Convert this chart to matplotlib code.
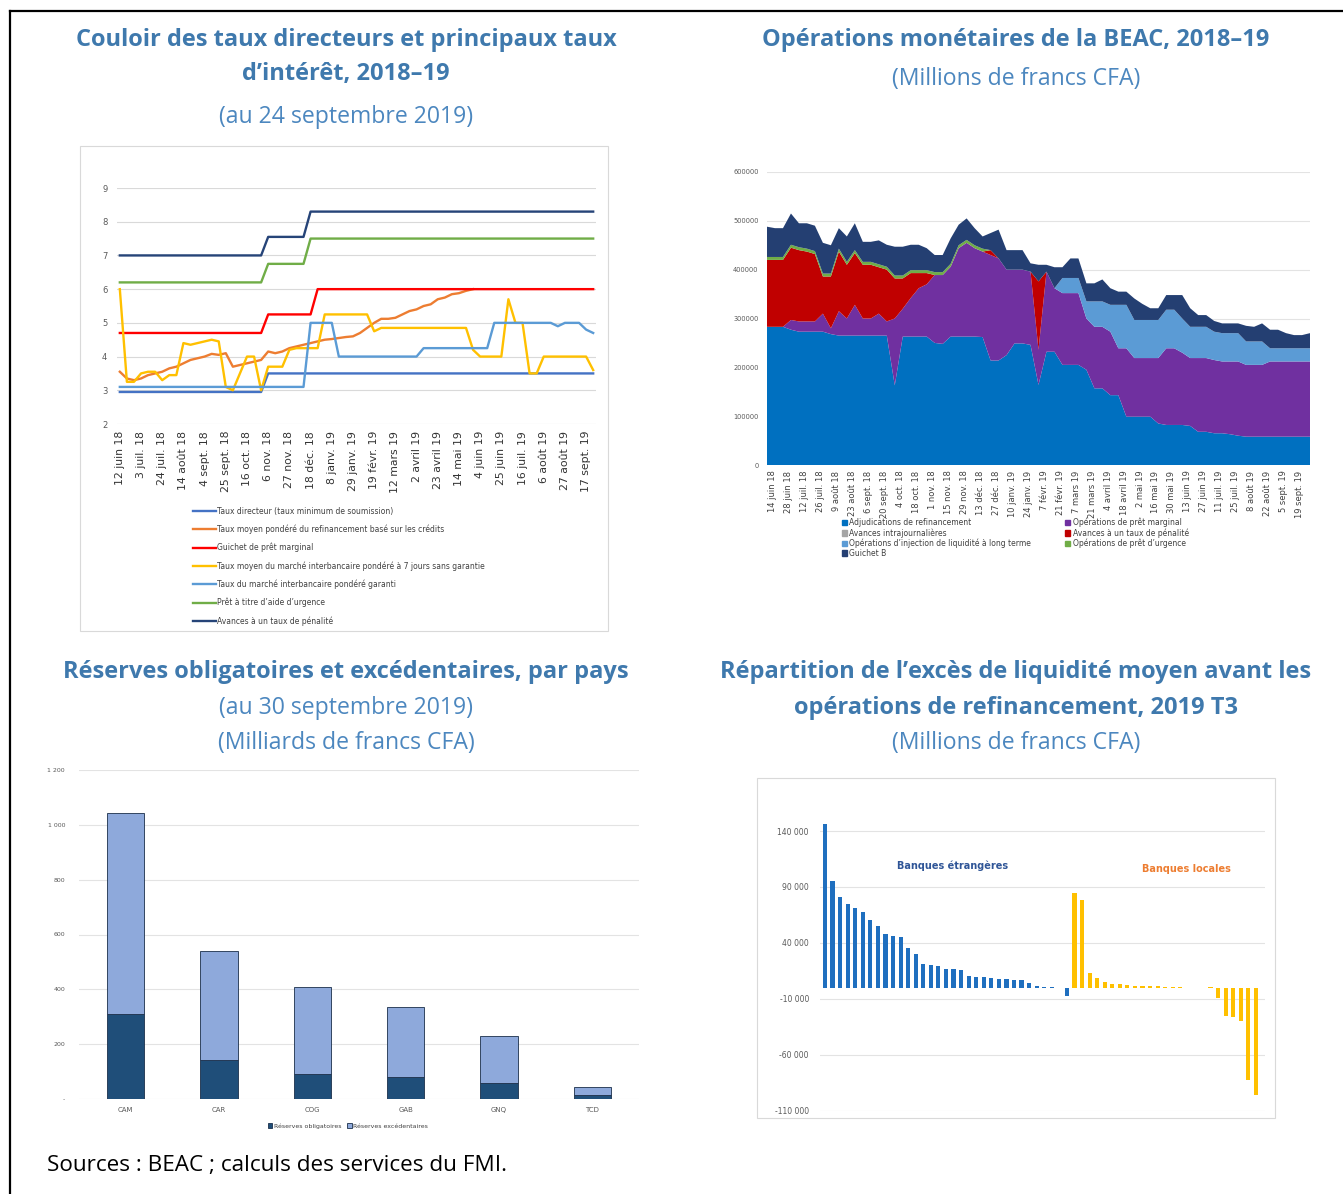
import numpy as np
import matplotlib.pyplot as plt
from matplotlib.patches import Rectangle, Patch
from matplotlib.lines import Line2D

W, H = 1343, 1194

# --- Panel 1: couloir des taux (hebdomadaire, 12 juin 18 -> 24 sept. 19) ---
p1_ticklabels = ["12 juin 18", "3 juil. 18", "24 juil. 18", "14 août 18", "4 sept. 18",
                 "25 sept. 18", "16 oct. 18", "6 nov. 18", "27 nov. 18", "18 déc. 18",
                 "8 janv. 19", "29 janv. 19", "19 févr. 19", "12 mars 19", "2 avril 19",
                 "23 avril 19", "14 mai 19", "4 juin 19", "25 juin 19", "16 juil. 19",
                 "6 août 19", "27 août 19", "17 sept. 19"]
taux_directeur = [2.95, 2.95, 2.95, 2.95, 2.95, 2.95, 2.95, 2.95, 2.95, 2.95,
                  2.95, 2.95, 2.95, 2.95, 2.95, 2.95, 2.95, 2.95, 2.95, 2.95,
                  2.95, 3.5, 3.5, 3.5, 3.5, 3.5, 3.5, 3.5, 3.5, 3.5,
                  3.5, 3.5, 3.5, 3.5, 3.5, 3.5, 3.5, 3.5, 3.5, 3.5,
                  3.5, 3.5, 3.5, 3.5, 3.5, 3.5, 3.5, 3.5, 3.5, 3.5,
                  3.5, 3.5, 3.5, 3.5, 3.5, 3.5, 3.5, 3.5, 3.5, 3.5,
                  3.5, 3.5, 3.5, 3.5, 3.5, 3.5, 3.5, 3.5]
taux_credits = [3.55, 3.35, 3.3, 3.35, 3.45, 3.5, 3.55, 3.65, 3.7, 3.8,
                3.9, 3.95, 4.0, 4.08, 4.05, 4.1, 3.7, 3.75, 3.8, 3.85,
                3.9, 4.15, 4.1, 4.15, 4.25, 4.3, 4.35, 4.4, 4.45, 4.5,
                4.52, 4.55, 4.58, 4.6, 4.7, 4.85, 5.0, 5.12, 5.12, 5.15,
                5.25, 5.35, 5.4, 5.5, 5.55, 5.7, 5.75, 5.85, 5.88, 5.95,
                6.0]
pret_marginal = [4.7, 4.7, 4.7, 4.7, 4.7, 4.7, 4.7, 4.7, 4.7, 4.7,
                 4.7, 4.7, 4.7, 4.7, 4.7, 4.7, 4.7, 4.7, 4.7, 4.7,
                 4.7, 5.25, 5.25, 5.25, 5.25, 5.25, 5.25, 5.25, 6.0, 6.0,
                 6.0, 6.0, 6.0, 6.0, 6.0, 6.0, 6.0, 6.0, 6.0, 6.0,
                 6.0, 6.0, 6.0, 6.0, 6.0, 6.0, 6.0, 6.0, 6.0, 6.0,
                 6.0, 6.0, 6.0, 6.0, 6.0, 6.0, 6.0, 6.0, 6.0, 6.0,
                 6.0, 6.0, 6.0, 6.0, 6.0, 6.0, 6.0, 6.0]
interb_sans_garantie = [6.0, 3.25, 3.25, 3.5, 3.55, 3.55, 3.3, 3.45, 3.45, 4.4,
                        4.35, 4.4, 4.45, 4.5, 4.45, 3.1, 3.0, 3.5, 4.0, 4.0,
                        3.0, 3.7, 3.7, 3.7, 4.2, 4.25, 4.25, 4.25, 4.25, 5.25,
                        5.25, 5.25, 5.25, 5.25, 5.25, 5.25, 4.75, 4.85, 4.85, 4.85,
                        4.85, 4.85, 4.85, 4.85, 4.85, 4.85, 4.85, 4.85, 4.85, 4.85,
                        4.2, 4.0, 4.0, 4.0, 4.0, 5.7, 5.0, 5.0, 3.5, 3.5,
                        4.0, 4.0, 4.0, 4.0, 4.0, 4.0, 4.0, 3.6]
interb_garanti = [3.1, 3.1, 3.1, 3.1, 3.1, 3.1, 3.1, 3.1, 3.1, 3.1,
                  3.1, 3.1, 3.1, 3.1, 3.1, 3.1, 3.1, 3.1, 3.1, 3.1,
                  3.1, 3.1, 3.1, 3.1, 3.1, 3.1, 3.1, 5.0, 5.0, 5.0,
                  5.0, 4.0, 4.0, 4.0, 4.0, 4.0, 4.0, 4.0, 4.0, 4.0,
                  4.0, 4.0, 4.0, 4.25, 4.25, 4.25, 4.25, 4.25, 4.25, 4.25,
                  4.25, 4.25, 4.25, 5.0, 5.0, 5.0, 5.0, 5.0, 5.0, 5.0,
                  5.0, 5.0, 4.9, 5.0, 5.0, 5.0, 4.8, 4.7]
aide_urgence = [6.2, 6.2, 6.2, 6.2, 6.2, 6.2, 6.2, 6.2, 6.2, 6.2,
                6.2, 6.2, 6.2, 6.2, 6.2, 6.2, 6.2, 6.2, 6.2, 6.2,
                6.2, 6.75, 6.75, 6.75, 6.75, 6.75, 6.75, 7.5, 7.5, 7.5,
                7.5, 7.5, 7.5, 7.5, 7.5, 7.5, 7.5, 7.5, 7.5, 7.5,
                7.5, 7.5, 7.5, 7.5, 7.5, 7.5, 7.5, 7.5, 7.5, 7.5,
                7.5, 7.5, 7.5, 7.5, 7.5, 7.5, 7.5, 7.5, 7.5, 7.5,
                7.5, 7.5, 7.5, 7.5, 7.5, 7.5, 7.5, 7.5]
taux_penalite = [7.0, 7.0, 7.0, 7.0, 7.0, 7.0, 7.0, 7.0, 7.0, 7.0,
                 7.0, 7.0, 7.0, 7.0, 7.0, 7.0, 7.0, 7.0, 7.0, 7.0,
                 7.0, 7.55, 7.55, 7.55, 7.55, 7.55, 7.55, 8.3, 8.3, 8.3,
                 8.3, 8.3, 8.3, 8.3, 8.3, 8.3, 8.3, 8.3, 8.3, 8.3,
                 8.3, 8.3, 8.3, 8.3, 8.3, 8.3, 8.3, 8.3, 8.3, 8.3,
                 8.3, 8.3, 8.3, 8.3, 8.3, 8.3, 8.3, 8.3, 8.3, 8.3,
                 8.3, 8.3, 8.3, 8.3, 8.3, 8.3, 8.3, 8.3]

# --- Panel 2: opérations monétaires (milliers de millions FCFA, hebdo) ---
p2_ticklabels = ["14 juin 18", "28 juin 18", "12 juil. 18", "26 juil. 18", "9 août 18",
                 "23 août 18", "6 sept. 18", "20 sept. 18", "4 oct. 18", "18 oct. 18",
                 "1 nov. 18", "15 nov. 18", "29 nov. 18", "13 déc. 18", "27 déc. 18",
                 "10 janv. 19", "24 janv. 19", "7 févr. 19", "21 févr. 19", "7 mars 19",
                 "21 mars 19", "4 avril 19", "18 avril 19", "2 mai 19", "16 mai 19",
                 "30 mai 19", "13 juin 19", "27 juin 19", "11 juil. 19", "25 juil. 19",
                 "8 août 19", "22 août 19", "5 sept. 19", "19 sept. 19"]
adjudications = [283, 283, 283, 277, 273, 273, 273, 273, 268, 265,
                 265, 265, 265, 265, 265, 265, 163, 263, 263, 263,
                 263, 250, 248, 263, 263, 263, 263, 262, 214, 214,
                 225, 249, 249, 246, 164, 232, 232, 205, 205, 205,
                 195, 157, 157, 143, 143, 99, 99, 99, 99, 85,
                 82, 82, 82, 80, 68, 68, 65, 65, 63, 60,
                 58, 58, 58, 58, 58, 58, 58, 58, 58]
pret_marg_ops = [0, 0, 0, 20, 21, 21, 21, 37, 12, 50,
                 35, 63, 35, 35, 45, 29, 137, 57, 79, 99,
                 107, 139, 141, 143, 181, 192, 181, 175, 216, 209,
                 175, 151, 151, 150, 72, 164, 130, 147, 147, 147,
                 105, 126, 126, 130, 96, 140, 120, 120, 120, 134,
                 157, 157, 148, 139, 151, 151, 150, 147, 149, 152,
                 147, 147, 147, 154, 154, 154, 154, 154, 154]
avances_penalite = [137, 137, 137, 148, 146, 143, 138, 76, 106, 122,
                    110, 106, 110, 110, 95, 106, 82, 62, 51, 31,
                    23, 0, 0, 0, 0, 0, 0, 0, 10, 0,
                    0, 0, 0, 0, 140, 0, 0, 0, 0, 0,
                    0, 0, 0, 0, 0, 0, 0, 0, 0, 0,
                    0, 0, 0, 0, 0, 0, 0, 0, 0, 0,
                    0, 0, 0, 0, 0, 0, 0, 0, 0]
pret_urgence = [6, 6, 6, 6, 6, 6, 6, 6, 6, 6,
                6, 6, 6, 6, 6, 6, 6, 6, 6, 6,
                6, 6, 6, 6, 6, 6, 6, 6, 0, 0,
                0, 0, 0, 0, 0, 0, 0, 0, 0, 0,
                0, 0, 0, 0, 0, 0, 0, 0, 0, 0,
                0, 0, 0, 0, 0, 0, 0, 0, 0, 0,
                0, 0, 0, 0, 0, 0, 0, 0, 0]
long_terme = [0, 0, 0, 0, 0, 0, 0, 0, 0, 0,
              0, 0, 0, 0, 0, 0, 0, 0, 0, 0,
              0, 0, 0, 0, 0, 0, 0, 0, 0, 0,
              0, 0, 0, 0, 0, 0, 0, 31, 31, 31,
              35, 52, 52, 55, 89, 89, 78, 78, 78, 78,
              79, 79, 70, 64, 64, 64, 58, 58, 58, 58,
              48, 48, 48, 27, 27, 27, 27, 27, 27]
guichet_b = [62, 59, 59, 64, 49, 52, 52, 63, 58, 42,
             52, 55, 41, 41, 49, 45, 59, 59, 52, 52,
             45, 35, 35, 52, 42, 44, 35, 25, 35, 59,
             40, 40, 40, 17, 34, 14, 43, 22, 40, 40,
             37, 37, 45, 34, 27, 27, 44, 33, 24, 24,
             30, 30, 48, 38, 24, 24, 22, 20, 20, 20,
             32, 30, 37, 38, 38, 31, 27, 27, 31]

# --- Panel 3: réserves par pays (milliards FCFA) ---
pays = ["CAM", "CAR", "COG", "GAB", "GNQ", "TCD"]
reserves_oblig = [309, 144, 91, 81, 59, 15]
reserves_totales = [1043, 540, 409, 337, 228, 42]

# --- Panel 4: excès de liquidité par banque (millions FCFA) ---
banques_etrangeres = [146000, 95600, 81300, 75200, 71300, 67500, 60200, 55600, 48100, 46600,
                      45800, 35800, 30600, 21200, 20600, 19400, 17200, 17000, 15600, 10100,
                      9900, 9400, 8800, 8200, 7800, 7400, 6600, 4200, 1900, 1000,
                      500, 200, -7500]
banques_locales = [84200, 78300, 13400, 8600, 5100, 3000, 3000, 2400, 1800, 1800,
                   1500, 1200, 900, 600, 300, 200, 200, 200, 300, -9500,
                   -25000, -26000, -29800, -82500, -95300]

TITLE_C = "#3F79AD"
SUB_C = "#4C87BF"
GRID_C = "#d9d9d9"
TICK_C = "#595959"


def box(l, t, r, b):
    return [l / W, 1 - b / H, (r - l) / W, (b - t) / H]


def clean(ax):
    for s in ax.spines.values():
        s.set_visible(False)
    ax.tick_params(length=0, colors=TICK_C)
    ax.set_axisbelow(True)


fig = plt.figure(figsize=(W / 100, H / 100), dpi=100)

# outer frame (top + left)
fig.add_artist(Line2D([10 / W, 1], [1 - 11 / H, 1 - 11 / H], color="black", lw=1.6,
                      transform=fig.transFigure))
fig.add_artist(Line2D([10 / W, 10 / W], [0, 1 - 11 / H], color="black", lw=1.6,
                      transform=fig.transFigure))

# titles
def title(x, y, s, bold=True):
    fig.text(x / W, 1 - y / H, s, ha="center", va="center", family="Open Sans",
             fontweight="bold" if bold else "normal", fontsize=17 if bold else 16.6,
             color=TITLE_C if bold else SUB_C)

title(346, 40, "Couloir des taux directeurs et principaux taux")
title(346, 74, "d’intérêt, 2018–19")
title(346, 117, "(au 24 septembre 2019)", bold=False)
title(1016, 40, "Opérations monétaires de la BEAC, 2018–19")
title(1016, 79, "(Millions de francs CFA)", bold=False)
title(346, 672, "Réserves obligatoires et excédentaires, par pays")
title(346, 708, "(au 30 septembre 2019)", bold=False)
title(346, 743, "(Milliards de francs CFA)", bold=False)
title(1016, 672, "Répartition de l’excès de liquidité moyen avant les")
title(1016, 708, "opérations de refinancement, 2019 T3")
title(1016, 743, "(Millions de francs CFA)", bold=False)

fig.text(47 / W, 1 - 1165 / H, "Sources : BEAC ; calculs des services du FMI.",
         ha="left", va="center", family="Open Sans", fontsize=16.2, color="black")

# ---------------- Panel 1 ----------------
fig.add_artist(Rectangle((80 / W, 1 - 631 / H), 528 / W, 485 / H, fill=False,
                         edgecolor=GRID_C, lw=0.8, transform=fig.transFigure))
ax1 = fig.add_axes(box(117, 188, 596, 424))
clean(ax1)
weeks = np.arange(len(taux_directeur))
series1 = [
    (taux_directeur, "#4472C4", "Taux directeur (taux minimum de soumission)"),
    (taux_credits, "#ED7D31", "Taux moyen pondéré du refinancement basé sur les crédits"),
    (pret_marginal, "#FF0000", "Guichet de prêt marginal"),
    (interb_sans_garantie, "#FFC000", "Taux moyen du marché interbancaire pondéré à 7 jours sans garantie"),
    (interb_garanti, "#5B9BD5", "Taux du marché interbancaire pondéré garanti"),
    (aide_urgence, "#70AD47", "Prêt à titre d’aide d’urgence"),
    (taux_penalite, "#264478", "Avances à un taux de pénalité"),
]
for vals, col, lab in series1:
    ax1.plot(np.arange(len(vals)), vals, color=col, lw=1.7, label=lab)
ax1.set_xlim(-0.4, len(weeks) - 0.6)
ax1.set_ylim(2, 9)
ax1.set_yticks(range(2, 10))
ax1.grid(axis="y", color=GRID_C, lw=0.8)
ax1.tick_params(axis="y", labelsize=6, pad=7)
ax1.set_xticks(np.arange(0, len(weeks), 3))
ax1.set_xticklabels(p1_ticklabels, rotation=90, fontsize=7.8, color="#333333",
                    family=["Liberation Sans Narrow", "DejaVu Sans"])
ax1.tick_params(axis="x", pad=5)
ax1.legend(loc="upper left", bbox_to_anchor=(186 / W, 1 - 500 / H),
           bbox_transform=fig.transFigure, frameon=False, fontsize=5.5,
           labelspacing=1.15, handlelength=3.0, handletextpad=0.2,
           labelcolor="#404040")

# ---------------- Panel 2 ----------------
ax2 = fig.add_axes(box(767, 172, 1310, 465))
clean(ax2)
days = -5 + 7 * np.arange(len(adjudications))
layers = [adjudications, pret_marg_ops, avances_penalite, pret_urgence, long_terme, guichet_b]
cols2 = ["#0070C0", "#7030A0", "#C00000", "#70AD47", "#5B9BD5", "#243F72"]
ax2.stackplot(days, [np.array(v) * 1000 for v in layers], colors=cols2, lw=0)
ax2.set_xlim(days[0], days[-1])
ax2.set_ylim(0, 600000)
ax2.set_yticks(range(0, 600001, 100000))
ax2.set_yticklabels([str(v) for v in range(0, 600001, 100000)])
ax2.grid(axis="y", color="#e3e3e3", lw=0.8)
ax2.tick_params(axis="y", labelsize=4.8, pad=6)
ax2.set_xticks(np.arange(0, 14 * len(p2_ticklabels), 14))
ax2.set_xticklabels(p2_ticklabels, rotation=90, fontsize=6,
                    family=["Liberation Sans Narrow", "DejaVu Sans"], color="#404040")
ax2.tick_params(axis="x", pad=4)
leg_items = [
    ("#0070C0", "Adjudications de refinancement"),
    ("#A5A5A5", "Avances intrajournalières"),
    ("#5B9BD5", "Opérations d’injection de liquidité à long terme"),
    ("#243F72", "Guichet B"),
    ("#7030A0", "Opérations de prêt marginal"),
    ("#C00000", "Avances à un taux de pénalité"),
    ("#70AD47", "Opérations de prêt d’urgence"),
]
ax2.legend([Patch(color=c) for c, _ in leg_items], [l for _, l in leg_items],
           loc="upper left", bbox_to_anchor=(838 / W, 1 - 514 / H),
           bbox_transform=fig.transFigure, ncol=2, frameon=False, fontsize=5.5,
           labelspacing=0.1, handlelength=0.7, handleheight=0.7, handletextpad=0.3,
           columnspacing=4.4, borderpad=0, labelcolor="#404040")

# ---------------- Panel 3 ----------------
ax3 = fig.add_axes(box(79, 770, 639, 1099))
clean(ax3)
xpos = np.arange(len(pays))
excedent = [t - o for t, o in zip(reserves_totales, reserves_oblig)]
ax3.bar(xpos, reserves_oblig, width=0.4, color="#1F4E79", edgecolor="#1b2f4a", lw=0.6,
        label="Réserves obligatoires")
ax3.bar(xpos, excedent, bottom=reserves_oblig, width=0.4, color="#8EA9DB",
        edgecolor="#1b2f4a", lw=0.6, label="Réserves excédentaires")
ax3.set_xlim(-0.5, len(pays) - 0.5)
ax3.set_ylim(0, 1200)
ax3.set_yticks(range(0, 1201, 200))
ax3.set_yticklabels(["-", "200", "400", "600", "800", "1 000", "1 200"])
ax3.grid(axis="y", color="#e3e3e3", lw=0.8)
ax3.tick_params(axis="y", labelsize=4.5, pad=10)
ax3.set_xticks(xpos)
ax3.set_xticklabels(pays)
ax3.tick_params(axis="x", labelsize=5, pad=6)
ax3.legend(loc="center", bbox_to_anchor=(348 / W, 1 - 1126 / H),
           bbox_transform=fig.transFigure, ncol=2, frameon=False, fontsize=4.5,
           handlelength=0.7, handleheight=0.7, handletextpad=0.2, columnspacing=1.0,
           labelcolor="#404040")

# ---------------- Panel 4 ----------------
fig.add_artist(Rectangle((757 / W, 1 - 1118 / H), 518 / W, 340 / H, fill=False,
                         edgecolor=GRID_C, lw=0.8, transform=fig.transFigure))
ax4 = fig.add_axes(box(820, 808.6, 1265, 1111))
clean(ax4)
n_et = len(banques_etrangeres)
x_et = np.arange(n_et)
x_lo = np.arange(n_et, n_et + len(banques_locales))
ax4.bar(x_et, banques_etrangeres, width=0.55, color="#1F6FBF")
ax4.bar(x_lo, banques_locales, width=0.55, color="#FFC000")
ax4.set_xlim(-0.66, n_et + len(banques_locales) + 0.2)
ax4.set_ylim(-110000, 160000)
yt = [140000, 90000, 40000, -10000, -60000, -110000]
ax4.set_yticks(yt)
ax4.set_yticklabels([f"{v:,}".replace(",", " ") for v in yt])
ax4.grid(axis="y", color="#e3e3e3", lw=0.8)
ax4.tick_params(axis="y", labelsize=5.5, pad=8)
ax4.set_xticks([])
fig.text(953 / W, 1 - 866 / H, "Banques étrangères", ha="center", va="center",
         fontsize=7, fontweight="bold", color="#2F5597")
fig.text(1186 / W, 1 - 869 / H, "Banques locales", ha="center", va="center",
         fontsize=7, fontweight="bold", color="#ED7D31")

fig.savefig("out.png", dpi=100)
